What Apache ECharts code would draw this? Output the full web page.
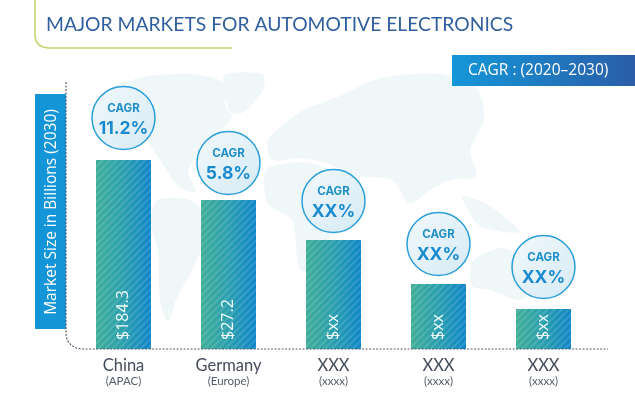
<!DOCTYPE html>
<html><head><meta charset="utf-8">
<style>html,body{margin:0;padding:0;background:#fff}#c{width:635px;height:401px}</style>
<script src="https://cdn.jsdelivr.net/npm/echarts@6/dist/echarts.min.js"></script></head>
<body><div id="c"></div>
<script>
const categories = ['China','Germany','XXX','XXX','XXX'];
const regions = ['(APAC)','(Europe)','(xxxx)','(xxxx)','(xxxx)'];
const barHeights = [189,149,109,65,40];
const barLabels = ['$184.3','$27.2','$xx','$xx','$xx'];
const cagrLabels = ['11.2%','5.8%','XX%','XX%','XX%'];
const bubbleLevels = [231,186,148,105,82];

const mapColor = '#f0f7f8';
const continents = [
 [[112,88],[150,76],[190,74],[222,82],[226,108],[232,116],[222,130],[200,150],[188,172],[196,192],[178,186],[160,160],[140,130],[120,112]],
 [[158,200],[190,200],[210,222],[196,262],[176,300],[168,322],[160,300],[158,250],[150,222]],
 [[224,76],[262,74],[264,88],[244,112],[230,112]],
 [[266,170],[300,162],[330,170],[352,196],[344,214],[330,236],[320,268],[300,270],[292,220],[268,204]],
 [[268,140],[300,112],[340,96],[380,78],[440,74],[478,90],[484,120],[470,150],[476,176],[450,180],[430,190],[410,204],[392,180],[352,176],[330,164],[300,158],[272,160]],
 [[462,196],[490,206],[520,232],[480,226]],
 [[472,262],[500,248],[524,258],[540,286],[520,300],[490,290],[472,286]]
];
const barGrad = {type:'linear',x:0,y:0,x2:1,y2:0,colorStops:[
 {offset:0,color:'#3fae98'},{offset:.5,color:'#2a9fae'},{offset:1,color:'#0f86c8'}]};
const bubbleGrad = {type:'linear',x:0,y:0,x2:1,y2:1,colorStops:[
 {offset:0,color:'#f2f9fc'},{offset:1,color:'#d5eaf5'}]};
const chart = echarts.init(document.getElementById('c'));
chart.setOption({
 animation:false,
 backgroundColor:'#fff',
 title:{text:'MAJOR MARKETS FOR AUTOMOTIVE ELECTRONICS',left:41,top:10,
   textStyle:{color:'#2f5f9f',fontSize:19.3,fontWeight:400,fontFamily:'Lato, sans-serif'}},
 grid:{left:71,top:69,width:525,height:280},
 xAxis:{type:'category',data:categories.map((c,i)=>c+'\n'+regions[i]),
   axisLine:{show:false},axisTick:{show:false},
   axisLabel:{margin:8,interval:0,formatter:v=>{const p=v.split('\n');return '{a|'+p[0]+'}\n{b|'+p[1]+'}';},
     rich:{a:{fontSize:16.5,color:'#454c5c',fontFamily:'Lato, sans-serif',lineHeight:17},
           b:{fontSize:11.5,color:'#555c6a',fontFamily:'Lato, sans-serif',lineHeight:14}}}},
 yAxis:{type:'value',min:0,max:280,show:false},
 graphic:[
  ...continents.map(pts=>({type:'polygon',z:-10,silent:true,shape:{points:pts,smooth:0.25},style:{fill:mapColor}})),
  {type:'polyline',z:1,silent:true,shape:{points:[[35,0],[35,36],[36,41],[39,45],[43,47],[48,48],[232,48]]},
    style:{fill:'none',stroke:'#c6d36f',lineWidth:1.6}},
  {type:'polyline',z:5,silent:true,shape:{points:[[66,82],[66,334],[67,340],[71,345],[76,348],[82,349],[608,349]]},
    style:{fill:'none',stroke:'#55606e',lineWidth:1.2,lineDash:[2,1.5]}},
  {type:'rect',z:3,shape:{x:35,y:94,width:31,height:235},style:{fill:'#1495d8'}},
  {type:'text',z:4,x:51.5,y:212,rotation:Math.PI/2,
    style:{text:'Market Size in Billions (2030)',fill:'#fff',fontSize:15.5,fontFamily:'"Open Sans", sans-serif',align:'center',verticalAlign:'middle'}},
  {type:'rect',z:3,shape:{x:452,y:55,width:183,height:31},
    style:{fill:{type:'linear',x:0,y:0,x2:1,y2:0,colorStops:[{offset:0,color:'#1497d9'},{offset:1,color:'#2b5da8'}]}}},
  {type:'text',z:4,x:468,y:71,
    style:{text:'CAGR : (2020–2030)',fill:'#fff',fontSize:15.5,fontFamily:'"Open Sans", sans-serif',verticalAlign:'middle'}}
 ],
 series:[
  {type:'bar',data:barHeights,barWidth:55,z:2,
   itemStyle:{color:barGrad,decal:{symbol:'rect',dashArrayX:[1,0],dashArrayY:[1.5,2.5],rotation:-Math.PI/4,color:'rgba(255,255,255,0.13)'}},
   label:{show:true,position:'insideBottom',distance:9,rotate:90,align:'left',verticalAlign:'middle',
     formatter:p=>barLabels[p.dataIndex],color:'#f2fafa',fontSize:16,fontFamily:'"Open Sans", sans-serif'}},
  {type:'scatter',data:bubbleLevels.map((v,i)=>[i,v]),symbol:'circle',symbolSize:63,z:4,
   itemStyle:{color:bubbleGrad,borderColor:'#2b9fd8',borderWidth:1.5,opacity:1},
   label:{show:true,position:'inside',offset:[0,2],formatter:p=>'{a|CAGR}\n{b|'+cagrLabels[p.dataIndex]+'}',
     rich:{a:{fontSize:11.5,fontWeight:700,color:'#1f8fc8',fontFamily:'Inter, sans-serif',lineHeight:17,align:'center'},
           b:{fontSize:17.5,fontWeight:700,color:'#1a8ad0',fontFamily:'Inter, sans-serif',lineHeight:22,align:'center'}}}}
 ]
});
</script></body></html>
